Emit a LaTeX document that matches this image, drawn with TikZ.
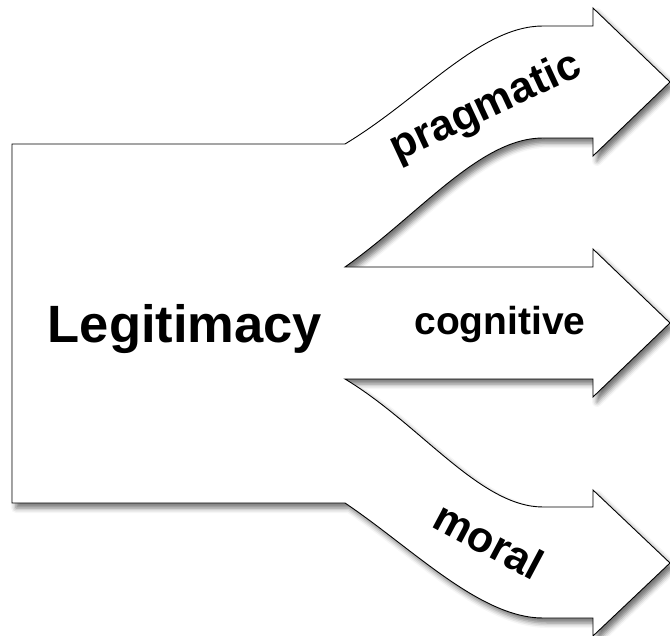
\documentclass[tikz,border=0pt]{standalone}
\usepackage{fontspec}
\setmainfont{Liberation Sans}
\usetikzlibrary{shadows.blur}
\tikzset{
  outline/.style={draw=black, line width=0.9pt, fill=white, line join=miter,
    blur shadow={shadow xshift=4pt, shadow yshift=-5pt, shadow blur radius=5pt, shadow opacity=55}},
  biglabel/.style={font=\fontsize{52.5}{60}\selectfont\bfseries, inner sep=0pt},
  armlabel/.style={font=\fontsize{39}{46}\selectfont\bfseries, inner sep=0pt},
  slantlabel/.style={font=\fontsize{43}{50}\selectfont\bfseries, inner sep=0pt}
}
\begin{document}
\begin{tikzpicture}[x=1pt,y=-1pt]
\useasboundingbox (0,0) rectangle (670,636);
\path[outline]
  (12,144) -- (345,144)
  .. controls (420,99) and (480,26) .. (543,26)
  -- (593,26) -- (593,8) -- (670,82) -- (593,156) -- (593,138) -- (543,138)
  .. controls (480,138) and (420,214) .. (345,267)
  -- (593,267) -- (593,249) -- (670,323) -- (593,397) -- (593,379) -- (345,379)
  .. controls (420,424) and (480,507) .. (543,507)
  -- (593,507) -- (593,490) -- (670,563) -- (593,636) -- (593,618) -- (543,618)
  .. controls (480,618) and (412,548) .. (345,503)
  -- (12,503) -- cycle;
\node[biglabel, anchor=base] (legit) at (185,343) {Legitimacy};
\node[armlabel, anchor=base] (cog) at (500,335) {cognitive};
\node[slantlabel, anchor=center, rotate=25] (prag) at (486,108) {pragmatic};
\node[slantlabel, anchor=center, rotate=-28] (moral) at (489,540) {moral};
\end{tikzpicture}
\end{document}
